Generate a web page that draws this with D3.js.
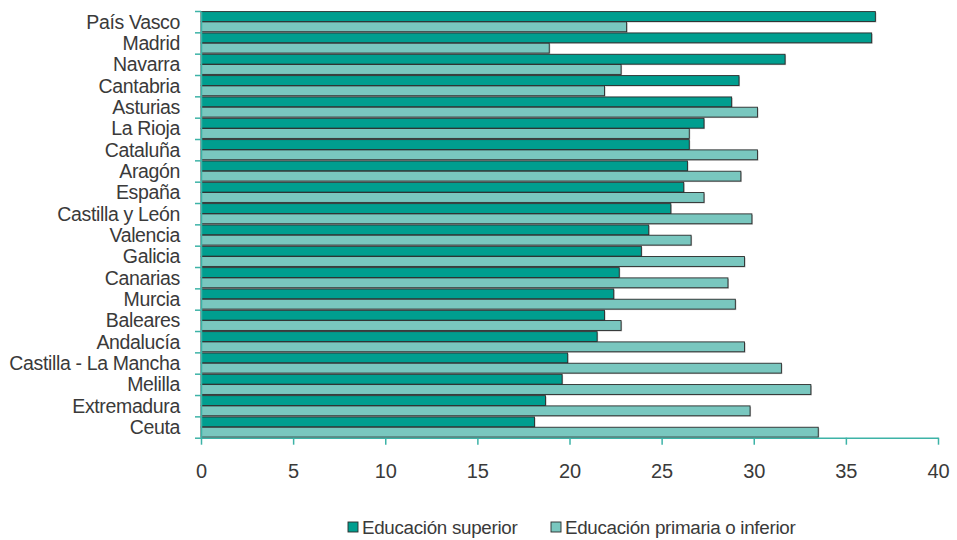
<!DOCTYPE html>
<html><head><meta charset="utf-8">
<script src="https://cdn.jsdelivr.net/npm/d3@7"></script>
<style>
html,body{margin:0;padding:0;background:#fff;}
text{font-family:"Liberation Sans",Arial,sans-serif;fill:#3a3a3a;}
</style></head>
<body><svg id="c" width="957" height="540"></svg>
<script>
const categories = ["País Vasco","Madrid","Navarra","Cantabria","Asturias","La Rioja","Cataluña","Aragón","España","Castilla y León","Valencia","Galicia","Canarias","Murcia","Baleares","Andalucía","Castilla - La Mancha","Melilla","Extremadura","Ceuta"];
const superior = [36.6,36.4,31.7,29.2,28.8,27.3,26.5,26.4,26.2,25.5,24.3,23.9,22.7,22.4,21.9,21.5,19.9,19.6,18.7,18.1];
const primaria = [23.1,18.9,22.8,21.9,30.2,26.5,30.2,29.3,27.3,29.9,26.6,29.5,28.6,29.0,22.8,29.5,31.5,33.1,29.8,33.5];
const seriesNames = ["Educación superior","Educación primaria o inferior"];
const xTicks = [0,5,10,15,20,25,30,35,40];

(function(){
const colors = ["#009e8f","#79c7bf"];
const axisColor = "#3db3a7";
const svg = d3.select("#c");
const mLeft = 201, mRight = 938, mTop = 11, mBottom = 437.7;

const x = d3.scaleLinear().domain([0,40]).range([mLeft,mRight]);
const y = d3.scaleBand().domain(categories).range([mTop,mBottom]).padding(0);
const yi = d3.scaleLinear().domain([0,categories.length]).range([mTop,mBottom]);
const inner = d3.scaleBand().domain([0,1]).range([0.6, y.bandwidth()-0.6]).paddingInner(0.04);

const data = [];
categories.forEach((c,i)=>{
  data.push({c, s:0, v:superior[i]});
  data.push({c, s:1, v:primaria[i]});
});

// shadows
svg.append("g").selectAll("rect").data(data).join("rect")
  .attr("x", x(0)+1)
  .attr("y", d=>y(d.c)+inner(d.s)+1)
  .attr("width", d=>x(d.v)-x(0))
  .attr("height", inner.bandwidth())
  .attr("fill","#8a8a8a").attr("opacity",0.6);

svg.append("g").selectAll("rect").data(data).join("rect")
  .attr("x", x(0))
  .attr("y", d=>y(d.c)+inner(d.s))
  .attr("width", d=>x(d.v)-x(0))
  .attr("height", inner.bandwidth())
  .attr("fill", d=>colors[d.s])
  .attr("stroke","#2a2a2a").attr("stroke-width",0.9);

// y axis
const ya = svg.append("g").attr("transform",`translate(${mLeft},0)`)
  .call(d3.axisLeft(yi).tickValues(d3.range(categories.length+1)).tickFormat("").tickSize(6).tickSizeOuter(0));
ya.select(".domain").attr("stroke",axisColor).attr("stroke-width",1.5);
ya.selectAll(".tick line").attr("stroke",axisColor).attr("stroke-width",1.5);

svg.append("g").selectAll("text").data(categories).join("text")
  .attr("x", mLeft-21)
  .attr("y", d=>y(d)+y.bandwidth()/2)
  .attr("dy","0.36em")
  .attr("text-anchor","end")
  .attr("font-size",19.5)
  .attr("letter-spacing","-0.35")
  .text(d=>d);

// x axis
const xa = svg.append("g").attr("transform",`translate(0,${mBottom})`)
  .call(d3.axisBottom(x).tickValues(xTicks).tickSize(7).tickSizeOuter(0).tickPadding(19));
xa.select(".domain").attr("stroke",axisColor).attr("stroke-width",1.5);
xa.selectAll(".tick line").attr("stroke",axisColor).attr("stroke-width",1.5);
xa.selectAll(".tick text").attr("font-size",20).attr("font-family","Liberation Sans, Arial, sans-serif").attr("fill","#3a3a3a");

// legend
const lg = svg.append("g");
const lx = [348, 551];
seriesNames.forEach((n,i)=>{
  lg.append("rect").attr("x",lx[i]).attr("y",522).attr("width",10).attr("height",10)
    .attr("fill",colors[i]).attr("stroke","#2a2a2a").attr("stroke-width",0.9);
  lg.append("text").attr("x",lx[i]+14).attr("y",527).attr("dy","0.36em")
    .attr("font-size",18.8).attr("letter-spacing","-0.3").text(n);
});
})();
</script></body></html>
